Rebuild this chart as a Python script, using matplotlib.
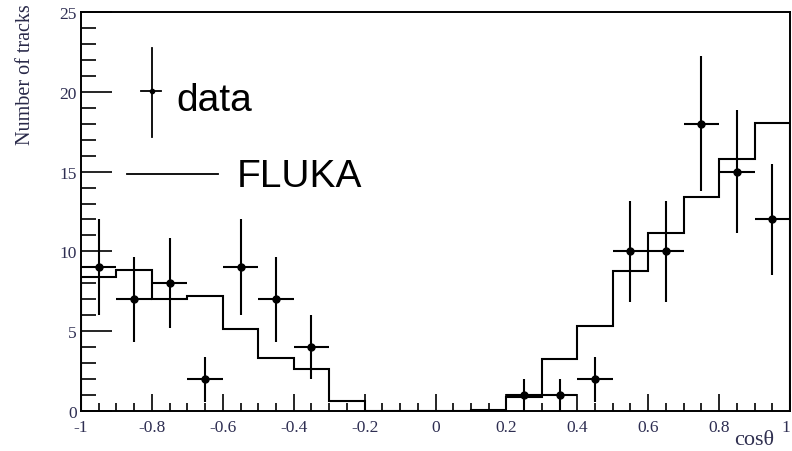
import numpy as np
import matplotlib.pyplot as plt
from matplotlib.ticker import MultipleLocator

# data points (bin centres, counts, errors)
data_x = [-0.95, -0.85, -0.75, -0.65, -0.55, -0.45, -0.35,
          0.25, 0.35, 0.45, 0.55, 0.65, 0.75, 0.85, 0.95]
data_y = [9, 7, 8, 2, 9, 7, 4, 1, 1, 2, 10, 10, 18, 15, 12]
data_err = [3.0, 2.65, 2.83, 1.41, 3.0, 2.65, 2.0,
            1.0, 1.0, 1.41, 3.16, 3.16, 4.24, 3.87, 3.46]

# FLUKA histogram
fluka_edges = np.round(np.arange(-1.0, 1.0001, 0.1), 2)
fluka_vals = [8.38, 8.83, 7.02, 7.19, 5.14, 3.32, 2.61, 0.65, 0, 0,
              0, 0.06, 0.86, 3.24, 5.35, 8.75, 11.17, 13.43, 15.77, 18.04]

tick_color = "#2e2e52"
serif = ["Liberation Serif", "DejaVu Serif"]
sans = ["Liberation Sans", "DejaVu Sans"]

fig = plt.figure(figsize=(7.92, 4.52), dpi=100)
ax = fig.add_axes([0.1023, 0.0885, 0.8952, 0.8827])

ax.stairs(fluka_vals, fluka_edges, color="black", lw=1.5)
ax.errorbar(data_x, data_y, xerr=0.05, yerr=data_err, fmt="o", color="black",
            ms=5, elinewidth=1.5, capsize=0)

ax.set_xlim(-1, 1)
ax.set_ylim(0, 25)

ax.xaxis.set_major_locator(MultipleLocator(0.2))
ax.xaxis.set_minor_locator(MultipleLocator(0.05))
ax.yaxis.set_major_locator(MultipleLocator(5))
ax.yaxis.set_minor_locator(MultipleLocator(1))
ax.tick_params(which="both", direction="in", top=False, right=False,
               colors="black", labelcolor=tick_color, width=1.2)
ax.tick_params(axis="x", which="major", length=12, pad=6)
ax.tick_params(axis="x", which="minor", length=6)
ax.tick_params(axis="y", which="major", length=22, pad=3)
ax.tick_params(axis="y", which="minor", length=11)

ax.set_xticks(np.round(np.arange(-1, 1.01, 0.2), 1))
ax.set_xticklabels(["-1", "-0.8", "-0.6", "-0.4", "-0.2", "0",
                    "0.2", "0.4", "0.6", "0.8", "1"])
for lab in ax.get_xticklabels() + ax.get_yticklabels():
    lab.set_family(serif)
    lab.set_fontsize(12.5)
ax.get_xticklabels()[-1].set_horizontalalignment("right")

for sp in ax.spines.values():
    sp.set_linewidth(1.4)

fig.text(0.032, 0.99, "Number of tracks", rotation=90, ha="center", va="top",
         family=serif, fontsize=14.5, color="#282848")
fig.text(0.978, 0.004, "cos\u03b8", ha="right", va="bottom",
         family=serif, fontsize=16, color="#303050")

# legend drawn by hand
tr = ax.transAxes
ax.plot([0.100, 0.100], [0.687, 0.910], transform=tr, color="black", lw=1.3)
ax.plot([0.0846, 0.1128], [0.802, 0.802], transform=tr, color="black", lw=1.3)
ax.plot([0.100], [0.802], "o", transform=tr, color="black", ms=3)
ax.text(0.135, 0.754, "data", transform=tr, family=sans, fontsize=28,
        va="baseline")
ax.plot([0.065, 0.193], [0.594, 0.594], transform=tr, color="black", lw=1.3)
ax.text(0.220, 0.564, "FLUKA", transform=tr, family=sans, fontsize=28,
        va="baseline")

fig.savefig("out.png", dpi=100)
